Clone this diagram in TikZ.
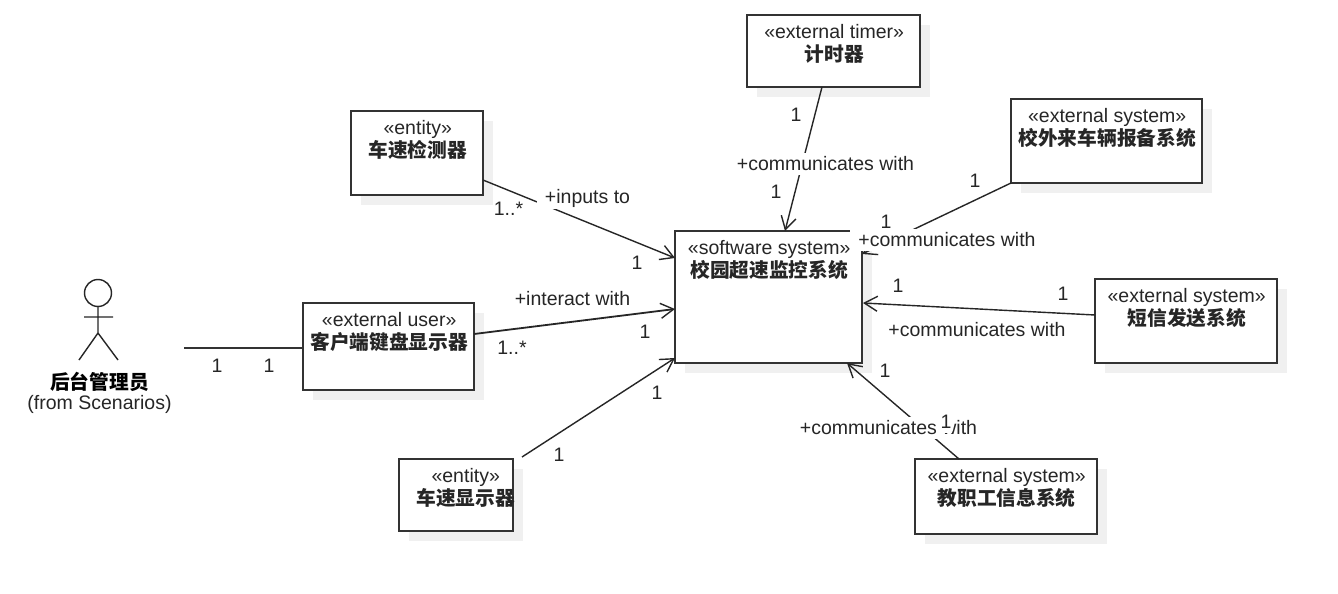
\documentclass[tikz,border=0pt]{standalone}
\usepackage{fontspec}
\setmainfont{Liberation Sans}
\newfontfamily\cjkf{Noto Sans CJK SC}
\usetikzlibrary{arrows.meta,calc}
\definecolor{edgec}{HTML}{333333}
\definecolor{shadowc}{HTML}{F0F0F0}
\newcommand{\cjkb}[1]{{\fontsize{19.7}{23}\selectfont\cjkf\bfseries #1}}
\tikzset{
  x=1pt,y=-1pt,
  every node/.style={font=\fontsize{19.5}{23}\selectfont},
  boxn/.style={draw=edgec,line width=1.7pt,fill=white,inner sep=0pt,outer sep=0pt,minimum width=#1},
  boxn/.default=100pt,
  boxtext/.style={align=center,inner sep=0pt,anchor=north,xshift=0.7pt,yshift=-9.3pt,text=black!85},
  conn/.style={draw=black!85,line width=1.4pt},
  assoc/.style={conn,-{Straight Barb[length=13pt,width=15pt,line width=1.4pt]}},
  rolelabel/.style={fill=white,inner xsep=8pt,inner ysep=0pt,minimum height=22pt,text=black!85,yshift=-1pt},
  multlabel/.style={fill=white,inner xsep=1pt,inner ysep=0pt,minimum height=22pt,text=black!85,yshift=-1pt},
}
\begin{document}
\begin{tikzpicture}
\useasboundingbox (0,0) rectangle (1338,594);
\fill[white] (0,0) rectangle (1338,594);
% shadows
\fill[shadowc] (757,25) rectangle (930,97);
\fill[shadowc] (361,121) rectangle (493,205);
\fill[shadowc] (1021,109) rectangle (1212,193);
\fill[shadowc] (685,241) rectangle (872,373);
\fill[shadowc] (1105,289) rectangle (1287,373);
\fill[shadowc] (313,313) rectangle (484,400);
\fill[shadowc] (409,469) rectangle (523,541);
\fill[shadowc] (925,469) rectangle (1107,544);
% boxes
\node[boxn=173pt,minimum height=72pt] (timer) at (833.5,51) {};
\node[boxn=132pt,minimum height=84pt] (speedin) at (417,153) {};
\node[boxn=191pt,minimum height=84pt] (visitor) at (1106.5,141) {};
\node[boxn=187pt,minimum height=132pt] (soft) at (768.5,297) {};
\node[boxn=182pt,minimum height=84pt] (sms) at (1186,321) {};
\node[boxn=171pt,minimum height=87pt] (client) at (388.5,346.5) {};
\node[boxn=114pt,minimum height=72pt] (speedout) at (456,495) {};
\node[boxn=182pt,minimum height=75pt] (staff) at (1006,496.5) {};
% box texts
\node[boxtext] (timert) at (timer.north) {«external timer»\\\cjkb{计时器}};
\node[boxtext] (speedint) at (speedin.north) {«entity»\\\cjkb{车速检测器}};
\node[boxtext] (visitort) at (visitor.north) {«external system»\\\cjkb{校外来车辆报备系统}};
\node[boxtext] (softt) at (soft.north) {«software system»\\\cjkb{校园超速监控系统}};
\node[boxtext] (smst) at (sms.north) {«external system»\\\cjkb{短信发送系统}};
\node[boxtext] (clientt) at (client.north) {«external user»\\\cjkb{客户端键盘显示器}};
\node[boxtext,xshift=9pt] (speedoutt) at (speedout.north) {«entity»\\\cjkb{车速显示器}};
\node[boxtext] (stafft) at (staff.north) {«external system»\\\cjkb{教职工信息系统}};
% actor
\draw[black!85,line width=1.4pt] (98,293) circle (13.5);
\draw[black!85,line width=1.4pt] (98,306.5) -- (98,333) -- (79,360) (98,333) -- (118,360) (84,317) -- (113,317);
\node[inner sep=0pt] (actorname) at (99.5,381.5) {\cjkb{后台管理员}};
\node[inner sep=0pt,text=black!85] (actorfrom) at (99.5,404.5) {(from Scenarios)};
\coordinate (actorend) at (184,348);
% connectors
\draw[assoc] ($(timer.south west)+(75,0)$) -- ($(soft.north west)+(110,0)$);
\draw[assoc] ($(speedin.south east)+(0,-15)$) -- ($(soft.north west)+(0,27)$);
\draw[assoc] (visitor.south west) -- ($(soft.north east)+(0,23)$);
\draw[assoc] ($(sms.north west)+(0,36)$) -- ($(soft.north east)+(1,72)$);
\draw[assoc] ($(staff.north west)+(44,0)$) -- ($(soft.south east)+(-15,0)$);
\draw[assoc,line width=1.8pt] ($(client.north east)+(0,31)$) -- ($(soft.north west)+(0,78)$);
\draw[assoc] ($(speedout.north east)+(9,-2)$) -- ($(soft.south west)+(0,-5)$);
\draw[conn,draw=edgec,line width=1.7pt] (actorend) -- ($(client.north west)+(0,45)$);
% labels
\node[rolelabel] (l1) at (825.5,163) {+communicates with};
\node[rolelabel] (l2) at (947,239) {+communicates with};
\node[rolelabel] (l3) at (977,329) {+communicates with};
\node[rolelabel] (l4) at (888.5,427) {+communicates with};
\node[rolelabel] (l5) at (587.5,197) {+inputs to};
\node[rolelabel] (l6) at (572.5,298) {+interact with};
\node[multlabel] (m1) at (796,114) {1};
\node[multlabel] (m2) at (776,191) {1};
\node[multlabel] (m3) at (975,180) {1};
\node[multlabel] (m4) at (886,221) {1};
\node[multlabel] (m5) at (898,285) {1};
\node[multlabel] (m6) at (1063,293) {1};
\node[multlabel] (m7) at (885,370) {1};
\node[multlabel] (m8) at (946,421) {1};
\node[multlabel] (m9) at (508.5,208) {1..*};
\node[multlabel] (m10) at (637,262) {1};
\node[multlabel] (m11) at (512,347) {1..*};
\node[multlabel] (m12) at (645,331) {1};
\node[multlabel] (m13) at (559,454) {1};
\node[multlabel] (m14) at (657,392) {1};
\node[multlabel] (m15) at (217,365) {1};
\node[multlabel] (m16) at (269,365) {1};
\end{tikzpicture}
\end{document}
